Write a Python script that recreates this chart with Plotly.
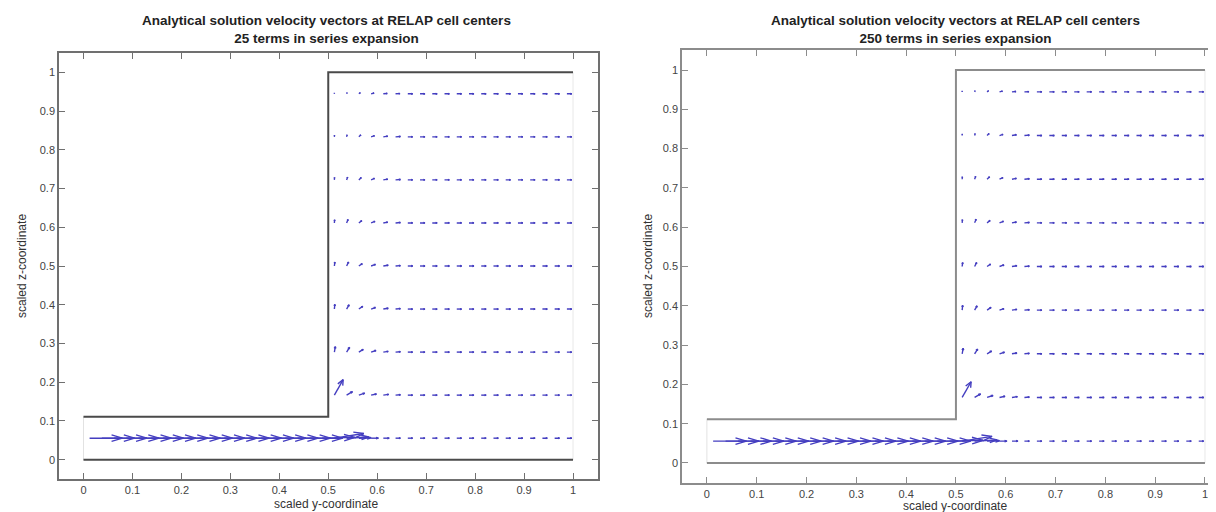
import numpy as np
import plotly.graph_objects as go

# ---------------- data ----------------
title_line1 = "Analytical solution velocity vectors at RELAP cell centers"
panel_terms = ["25 terms in series expansion", "250 terms in series expansion"]
x_label = "scaled y-coordinate"
y_label = "scaled z-coordinate"
tick_vals = [0, 0.1, 0.2, 0.3, 0.4, 0.5, 0.6, 0.7, 0.8, 0.9, 1]
tick_text = ["0", "0.1", "0.2", "0.3", "0.4", "0.5", "0.6", "0.7", "0.8", "0.9", "1"]

# RELAP cell centres
channel_cols = [0.0125, 0.0375, 0.0625, 0.0875, 0.1125, 0.1375, 0.1625, 0.1875, 0.2125, 0.2375,
                0.2625, 0.2875, 0.3125, 0.3375, 0.3625, 0.3875, 0.4125, 0.4375, 0.4625, 0.4875]
cavity_cols = [0.5125, 0.5375, 0.5625, 0.5875, 0.6125, 0.6375, 0.6625, 0.6875, 0.7125, 0.7375,
               0.7625, 0.7875, 0.8125, 0.8375, 0.8625, 0.8875, 0.9125, 0.9375, 0.9625, 0.9875]
bottom_row_z = 0.0556
cavity_rows_z = [0.1667, 0.2778, 0.3889, 0.5000, 0.6111, 0.7222, 0.8333, 0.9444]

# bottom row (inlet channel + cavity), displayed vector components
bottom_u = [0.067] * 20 + [0.060, 0.045, 0.025, 0.015, 0.012] + [0.010] * 15
bottom_v = [0.0] * 19 + [0.002] + [0.012, 0.003, 0.001, 0.0, 0.0] + [0.0] * 15

# cavity rows (one list per row, 20 columns each)
cavity_u = [
    [0.018, 0.012, 0.012, 0.011, 0.011, 0.010] + [0.010] * 14,
    [0.002, 0.006, 0.009, 0.010, 0.010, 0.010] + [0.010] * 14,
    [0.001, 0.005, 0.008, 0.009, 0.010, 0.010] + [0.010] * 14,
    [0.001, 0.004, 0.007, 0.009, 0.010, 0.010] + [0.010] * 14,
    [0.0005, 0.003, 0.006, 0.008, 0.009, 0.010] + [0.010] * 14,
    [0.0003, 0.002, 0.005, 0.007, 0.009, 0.010] + [0.010] * 14,
    [0.0002, 0.001, 0.004, 0.007, 0.009, 0.010] + [0.010] * 14,
    [0.0, 0.001, 0.003, 0.006, 0.008, 0.009] + [0.010] * 14,
]
cavity_v = [
    [0.040, 0.009, 0.005, 0.003, 0.002, 0.001] + [0.0] * 14,
    [0.014, 0.012, 0.007, 0.004, 0.002, 0.001] + [0.0] * 14,
    [0.012, 0.011, 0.007, 0.004, 0.002, 0.001] + [0.0] * 14,
    [0.010, 0.010, 0.006, 0.004, 0.002, 0.001] + [0.0] * 14,
    [0.008, 0.009, 0.006, 0.004, 0.002, 0.001] + [0.0] * 14,
    [0.006, 0.007, 0.006, 0.004, 0.002, 0.001] + [0.0] * 14,
    [0.004, 0.005, 0.005, 0.003, 0.002, 0.001] + [0.0] * 14,
    [0.002, 0.003, 0.003, 0.002, 0.001, 0.0005] + [0.0] * 14,
]

# flow domain outline (scaled coordinates)
floor_y = [0.0, 1.0]
floor_z = [0.0, 0.0]
step_y = [0.0, 0.5, 0.5, 1.0]
step_z = [0.1111, 0.1111, 1.0, 1.0]
inlet_y = [0.0, 0.0]
inlet_z = [0.0, 0.1111]
outlet_y = [1.0, 1.0]
outlet_z = [0.0, 1.0]


# ---------------- helpers ----------------
def quiver_lines(x, y, u, v, alpha=0.33, beta=0.38):
    """MATLAB-style quiver: shaft + two-line arrow head, separated by None."""
    xs, ys = [], []
    for xi, yi, ui, vi in zip(x, y, u, v):
        tx, ty = xi + ui, yi + vi
        xs += [xi, tx, None,
               tx - alpha * (ui + beta * vi), tx, tx - alpha * (ui - beta * vi), None]
        ys += [yi, ty, None,
               ty - alpha * (vi - beta * ui), ty, ty - alpha * (vi + beta * ui), None]
    return xs, ys


all_x = channel_cols + cavity_cols
qx, qy = [], []
bx, by = quiver_lines(all_x, [bottom_row_z] * len(all_x), bottom_u, bottom_v)
qx += bx
qy += by
for z, urow, vrow in zip(cavity_rows_z, cavity_u, cavity_v):
    cx, cy = quiver_lines(cavity_cols, [z] * len(cavity_cols), urow, vrow)
    qx += cx
    qy += cy

fig = go.Figure()

panel_style = [
    dict(xa="x", ya="y", wall="#4a4a4a", box="#707070"),
    dict(xa="x2", ya="y2", wall="#8c8c8c", box="#8c8c8c"),
]
for ps in panel_style:
    fig.add_trace(go.Scatter(x=inlet_y, y=inlet_z, mode="lines", xaxis=ps["xa"], yaxis=ps["ya"],
                             line=dict(color="#e2e2e2", width=1), hoverinfo="skip", showlegend=False))
    fig.add_trace(go.Scatter(x=outlet_y, y=outlet_z, mode="lines", xaxis=ps["xa"], yaxis=ps["ya"],
                             line=dict(color="#e8e8e8", width=1), hoverinfo="skip", showlegend=False))
    fig.add_trace(go.Scatter(x=floor_y, y=floor_z, mode="lines", xaxis=ps["xa"], yaxis=ps["ya"],
                             line=dict(color=ps["wall"], width=2), hoverinfo="skip", showlegend=False))
    fig.add_trace(go.Scatter(x=step_y, y=step_z, mode="lines", xaxis=ps["xa"], yaxis=ps["ya"],
                             line=dict(color=ps["wall"], width=2), hoverinfo="skip", showlegend=False))
    fig.add_trace(go.Scatter(x=qx, y=qy, mode="lines", xaxis=ps["xa"], yaxis=ps["ya"],
                             line=dict(color="rgb(68,62,192)", width=1.4), hoverinfo="skip",
                             showlegend=False))

W, H = 1216, 512
font_fam = "Liberation Sans, Arial, sans-serif"


def xaxis_cfg(dom, rng, color, anchor):
    return dict(domain=dom, range=rng, anchor=anchor, tickmode="array", tickvals=tick_vals,
                ticktext=tick_text, ticks="inside", ticklen=6, tickcolor=color, showline=True,
                linecolor=color, linewidth=1.5, mirror="ticks", showgrid=False, zeroline=False,
                tickfont=dict(family=font_fam, size=11, color="#444"), fixedrange=True)


def yaxis_cfg(dom, rng, color, anchor, mirror):
    return dict(domain=dom, range=rng, anchor=anchor, tickmode="array", tickvals=tick_vals,
                ticktext=tick_text, ticks="inside", ticklen=6, tickcolor=color, showline=True,
                linecolor=color, linewidth=1.5, mirror=mirror, showgrid=False, zeroline=False,
                tickfont=dict(family=font_fam, size=11, color="#444"), fixedrange=True)


left_xdom = [51 / W, 589.5 / W]
left_ydom = [(H - 471.1) / H, (H - 44.9) / H]
right_xdom = [674 / W, 1.0]
right_ydom = [(H - 474.6) / H, (H - 42.4) / H]

fig.update_layout(
    width=W, height=H, margin=dict(l=0, r=0, t=0, b=0),
    paper_bgcolor="white", plot_bgcolor="white", showlegend=False,
    xaxis=xaxis_cfg(left_xdom, [-0.05, 1.05], panel_style[0]["box"], "y"),
    yaxis=yaxis_cfg(left_ydom, [-0.05, 1.05], panel_style[0]["box"], "x", "ticks"),
    xaxis2=xaxis_cfg(right_xdom, [-0.05, 1.0382], panel_style[1]["box"], "y2"),
    yaxis2=yaxis_cfg(right_ydom, [-0.05, 1.05], panel_style[1]["box"], "x2", False),
)

annotations = []
centers = [318 / W, 947 / W]
for cx, terms, xl_y in zip(centers, panel_terms, [496, 498]):
    annotations.append(dict(x=cx, y=1 - 3 / H, xref="paper", yref="paper", xanchor="center",
                            yanchor="top", showarrow=False,
                            text="<b>" + title_line1 + "<br>" + terms + "</b>",
                            font=dict(family=font_fam, size=13.5, color="#222")))
    annotations.append(dict(x=cx, y=1 - xl_y / H, xref="paper", yref="paper", xanchor="center",
                            yanchor="middle", showarrow=False, text=x_label,
                            font=dict(family=font_fam, size=12, color="#333")))
annotations.append(dict(x=14 / W, y=1 - 258 / H, xref="paper", yref="paper", xanchor="center",
                        yanchor="middle", showarrow=False, text=y_label, textangle=-90,
                        font=dict(family=font_fam, size=12, color="#333")))
annotations.append(dict(x=640 / W, y=1 - 258 / H, xref="paper", yref="paper", xanchor="center",
                        yanchor="middle", showarrow=False, text=y_label, textangle=-90,
                        font=dict(family=font_fam, size=12, color="#333")))
fig.update_layout(annotations=annotations)

fig.write_html("out.html")
